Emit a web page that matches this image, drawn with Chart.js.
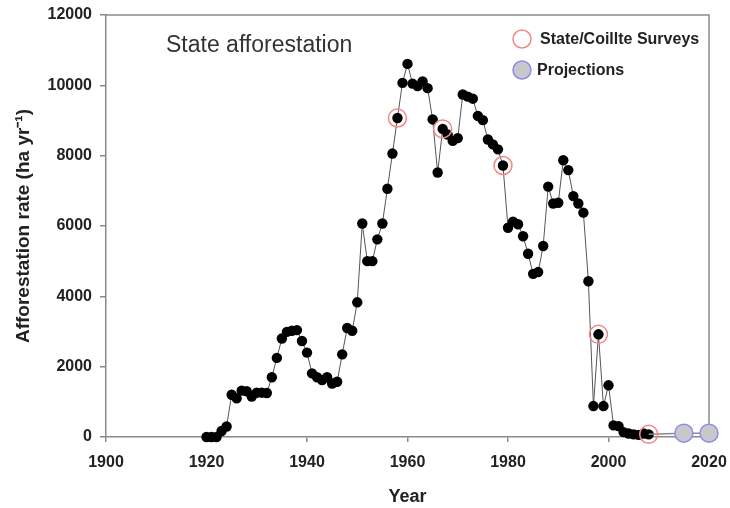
<!DOCTYPE html>
<html>
<head>
<meta charset="utf-8">
<script src="https://cdn.jsdelivr.net/npm/chart.js@4.4.1/dist/chart.umd.min.js"></script>
<style>
html,body{margin:0;padding:0;background:#fff;}
#wrap{width:730px;height:508px;position:relative;}
</style>
</head>
<body>
<div id="wrap"><canvas id="c" width="730" height="508"></canvas></div>
<script>
const years = [1920,1921,1922,1923,1924,1925,1926,1927,1928,1929,
  1930,1931,1932,1933,1934,1935,1936,1937,1938,1939,
  1940,1941,1942,1943,1944,1945,1946,1947,1948,1949,
  1950,1951,1952,1953,1954,1955,1956,1957,1958,1959,
  1960,1961,1962,1963,1964,1965,1966,1967,1968,1969,
  1970,1971,1972,1973,1974,1975,1976,1977,1978,1979,
  1980,1981,1982,1983,1984,1985,1986,1987,1988,1989,
  1990,1991,1992,1993,1994,1995,1996,1997,1998,1999,
  2000,2001,2002,2003,2004,2005,2006,2007,2008];
const afforestation = [0,0,0,170,300,1200,1100,1320,1300,1150,
  1260,1260,1250,1700,2250,2800,2990,3020,3040,2730,
  2400,1810,1700,1620,1700,1520,1570,2350,3100,3020,
  3830,6070,5000,5000,5620,6070,7060,8060,9070,10070,
  10610,10050,9980,10110,9920,9030,7520,8760,8600,8420,
  8500,9740,9680,9620,9130,9010,8460,8320,8180,7720,
  5950,6120,6050,5710,5210,4640,4690,5430,7120,6640,
  6660,7870,7590,6850,6640,6380,4430,880,2920,880,
  1470,330,310,140,100,75,60,100,75];
const surveyYears = [1958,1967,1979,1998,2008];
const surveyValues = [9070,8760,7720,2920,75];
const projYears = [2008,2015,2020];
const projValues = [75,110,110];
const xTicks = [1900,1920,1940,1960,1980,2000,2020];
const yTicks = [0,2000,4000,6000,8000,10000,12000];

const toXY = (xs, ys) => xs.map((x,i)=>({x:x, y:ys[i]}));
const FONT = "'Liberation Sans', Arial, sans-serif";

const framePlugin = {
  id:'frame',
  beforeDatasetsDraw(chart){
    const {ctx, chartArea:a} = chart;
    ctx.save();
    ctx.strokeStyle = '#8a8a8a';
    ctx.lineWidth = 1.5;
    ctx.beginPath();
    ctx.moveTo(a.left, a.top); ctx.lineTo(a.right, a.top); ctx.lineTo(a.right, a.bottom);
    ctx.stroke();
    ctx.restore();
  },
  afterDraw(chart){
    const {ctx} = chart;
    ctx.save();
    ctx.fillStyle = '#333';
    ctx.font = "23px " + FONT;
    ctx.textBaseline = 'middle';
    ctx.textAlign = 'left';
    ctx.fillText('State afforestation', 166, 46);
    // legend
    ctx.beginPath(); ctx.arc(522, 39, 9, 0, Math.PI*2);
    ctx.strokeStyle = '#f08a8a'; ctx.lineWidth = 1.5; ctx.stroke();
    ctx.beginPath(); ctx.arc(522, 70, 9, 0, Math.PI*2);
    ctx.fillStyle = '#c8c8c8'; ctx.fill();
    ctx.strokeStyle = '#8c8cf0'; ctx.stroke();
    ctx.fillStyle = '#222';
    ctx.font = "bold 16px " + FONT;
    ctx.fillText('State/Coillte Surveys', 540, 40);
    ctx.fillText('Projections', 537, 71);
    ctx.restore();
  }
};

new Chart(document.getElementById('c'), {
  type:'line',
  data:{
    datasets:[
      {
        label:'State afforestation',
        data: toXY(years, afforestation),
        borderColor:'#555', borderWidth:1,
        pointRadius:5.2, pointBackgroundColor:'#000', pointBorderColor:'#000', pointBorderWidth:0,
        pointHoverRadius:5.2,
        tension:0, clip:false, order:3
      },
      {
        label:'Projections',
        data: toXY(projYears, projValues),
        borderColor:'#8a8a8a', borderWidth:1.5,
        pointRadius: ctx => ctx.dataIndex === 0 ? 0 : 9,
        pointBackgroundColor:'#c8c8c8', pointBorderColor:'#8c8cf0', pointBorderWidth:1.5,
        tension:0, clip:false, order:2
      },
      {
        label:'State/Coillte Surveys',
        data: toXY(surveyYears, surveyValues),
        showLine:false,
        pointRadius:9, pointBackgroundColor:'rgba(0,0,0,0)', pointBorderColor:'#f08a8a', pointBorderWidth:1.5,
        clip:false, order:1
      }
    ]
  },
  options:{
    responsive:false, animation:false,
    layout:{padding:{top:15, right:21, left:0, bottom:0}},
    plugins:{legend:{display:false}, tooltip:{enabled:false}},
    events:[],
    scales:{
      x:{
        type:'linear', min:1900, max:2020,
        afterBuildTicks: s => { s.ticks = xTicks.map(v=>({value:v})); },
        afterFit: s => { s.height = 71; s.paddingLeft = 0; s.paddingRight = 0; },
        grid:{drawOnChartArea:false, drawTicks:true, tickLength:5, color:'#8a8a8a', lineWidth:1.5},
        border:{display:true, color:'#8a8a8a', width:1.5},
        ticks:{color:'#222', font:{family:FONT, size:16, weight:'bold'}, padding:11, maxRotation:0,
               callback: v => String(v)},
        title:{display:true, text:'Year', color:'#222', font:{family:FONT, size:18, weight:'bold'}, padding:{top:0,bottom:0}}
      },
      y:{
        type:'linear', min:0, max:12000,
        afterBuildTicks: s => { s.ticks = yTicks.map(v=>({value:v})); },
        afterFit: s => { s.width = 106; s.paddingTop = 0; s.paddingBottom = 0; },
        grid:{drawOnChartArea:false, drawTicks:true, tickLength:6, color:'#8a8a8a', lineWidth:1.5},
        border:{display:true, color:'#8a8a8a', width:1.5},
        ticks:{color:'#222', font:{family:FONT, size:16, weight:'bold'}, padding:8,
               callback: v => String(v)},
        title:{display:true, text:'Afforestation rate (ha yr\u207B\u00B9)', color:'#222', font:{family:FONT, size:19, weight:'bold'}, padding:{top:12,bottom:0}}
      }
    }
  },
  plugins:[framePlugin]
});
</script>
</body>
</html>
